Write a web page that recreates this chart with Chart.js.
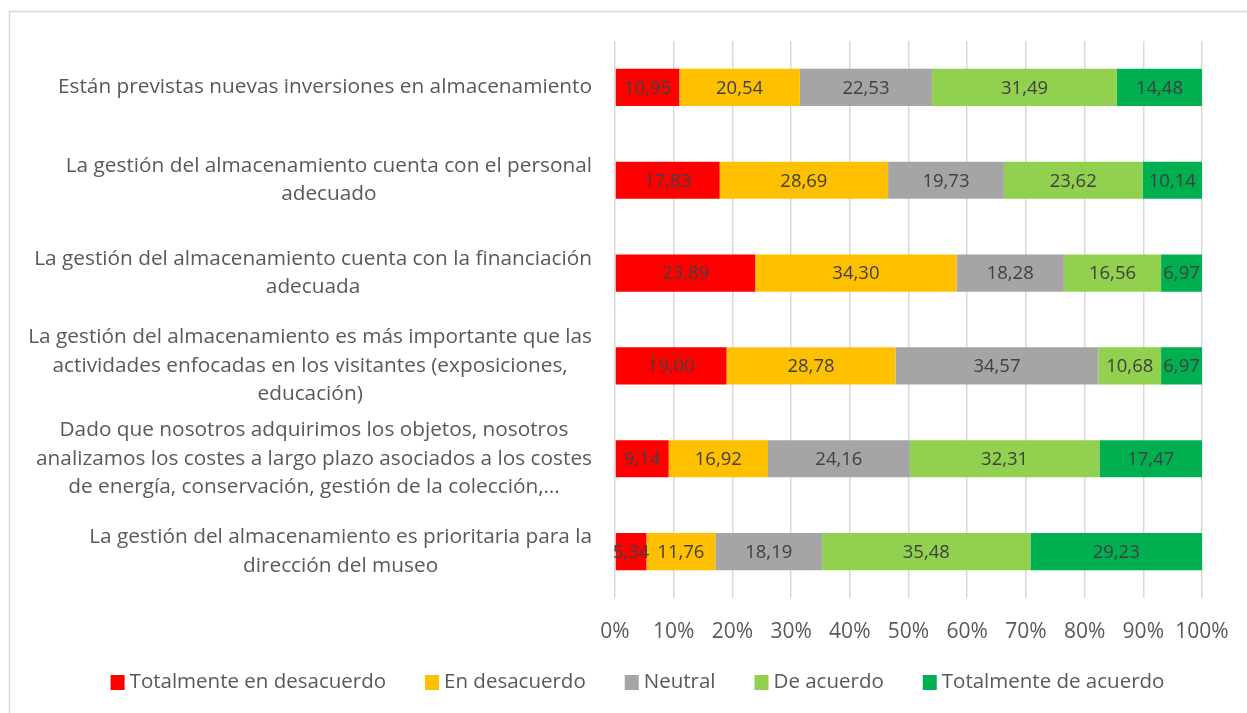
<!DOCTYPE html>
<html lang="es">
<head>
<meta charset="utf-8">
<title>Gestión del almacenamiento</title>
<script src="https://cdn.jsdelivr.net/npm/chart.js@4"></script>
<style>
  html, body { margin: 0; padding: 0; background: #fff; }
  #wrap { position: relative; width: 1247px; height: 713px; }
</style>
</head>
<body>
<div id="wrap"><canvas id="storageChart" width="1247" height="713"></canvas></div>
<script>
// Survey statements (one array of lines per statement)
const categories = [
    ['Están previstas nuevas inversiones en almacenamiento'],
    ['La gestión del almacenamiento cuenta con el personal', 'adecuado'],
    ['La gestión del almacenamiento cuenta con la financiación', 'adecuada'],
    ['La gestión del almacenamiento es más importante que las', 'actividades enfocadas en los visitantes (exposiciones,', 'educación)'],
    ['Dado que nosotros adquirimos los objetos, nosotros', 'analizamos los costes a largo plazo asociados a los costes', 'de energía, conservación, gestión de la colección,…'],
    ['La gestión del almacenamiento es prioritaria para la', 'dirección del museo']
];

const seriesNames = ['Totalmente en desacuerdo', 'En desacuerdo', 'Neutral', 'De acuerdo', 'Totalmente de acuerdo'];
const seriesColors = ['#FF0000', '#FFC000', '#A5A5A5', '#92D050', '#00B050'];

const totalDesacuerdo = [10.95, 17.83, 23.89, 19.00, 9.14, 5.34];
const enDesacuerdo    = [20.54, 28.69, 34.30, 28.78, 16.92, 11.76];
const neutral         = [22.53, 19.73, 18.28, 34.57, 24.16, 18.19];
const deAcuerdo       = [31.49, 23.62, 16.56, 10.68, 32.31, 35.48];
const totalAcuerdo    = [14.48, 10.14, 6.97, 6.97, 17.47, 29.23];

const xTicks = [0, 10, 20, 30, 40, 50, 60, 70, 80, 90, 100];

const FONT = '"Open Sans", Lato, sans-serif';
const TEXT = '#595959';

// frame around the whole chart
const framePlugin = {
    id: 'frame',
    beforeDraw(chart) {
        const ctx = chart.ctx;
        ctx.save();
        ctx.strokeStyle = '#D9D9D9';
        ctx.lineWidth = 1.5;
        ctx.strokeRect(9.5, 11.5, 1400, 900);
        ctx.restore();
    }
};

// category labels: each block centred on itself, right-aligned against the axis
const categoryLabels = {
    id: 'categoryLabels',
    afterDraw(chart) {
        const ctx = chart.ctx;
        const y = chart.scales.y;
        const right = chart.chartArea.left - 23;
        const lineH = 28.5;
        ctx.save();
        ctx.font = '20.8px ' + FONT;
        ctx.fillStyle = TEXT;
        ctx.textAlign = 'center';
        ctx.textBaseline = 'middle';
        categories.forEach((lines, i) => {
            const cy = y.getPixelForValue(i);
            const w = Math.max(...lines.map(l => ctx.measureText(l).width));
            const cx = right - w / 2;
            const top = cy - (lines.length - 1) * lineH / 2;
            lines.forEach((l, j) => ctx.fillText(l, cx, top + j * lineH));
        });
        ctx.restore();
    }
};

// value labels in the middle of each segment
const valueLabels = {
    id: 'valueLabels',
    afterDatasetsDraw(chart) {
        const ctx = chart.ctx;
        ctx.save();
        ctx.font = '18.5px ' + FONT;
        ctx.fillStyle = '#404040';
        ctx.textAlign = 'center';
        ctx.textBaseline = 'middle';
        chart.data.datasets.forEach((ds, i) => {
            chart.getDatasetMeta(i).data.forEach((bar, j) => {
                const v = ds.data[j];
                ctx.fillText(v.toFixed(2).replace('.', ','), (bar.x + bar.base) / 2, bar.y + 1);
            });
        });
        ctx.restore();
    }
};

// legend row under the axis, centred, square swatches
const bottomLegend = {
    id: 'bottomLegend',
    afterDraw(chart) {
        const ctx = chart.ctx;
        const box = 14, gapText = 5, gapItem = 39, cy = 682;
        ctx.save();
        ctx.font = '20.5px ' + FONT;
        ctx.textBaseline = 'middle';
        ctx.textAlign = 'left';
        const widths = seriesNames.map(n => ctx.measureText(n).width);
        const total = widths.reduce((a, w) => a + box + gapText + w, 0) + gapItem * (seriesNames.length - 1);
        let x = 637.5 - total / 2;
        seriesNames.forEach((n, i) => {
            ctx.fillStyle = seriesColors[i];
            ctx.fillRect(x, cy - box / 2, box, box + 1);
            ctx.fillStyle = TEXT;
            ctx.fillText(n, x + box + gapText, cy);
            x += box + gapText + widths[i] + gapItem;
        });
        ctx.restore();
    }
};

const seriesData = [totalDesacuerdo, enDesacuerdo, neutral, deAcuerdo, totalAcuerdo];

new Chart(document.getElementById('storageChart'), {
    type: 'bar',
    data: {
        labels: categories.map(c => c.join(' ')),
        datasets: seriesNames.map((name, i) => ({
            label: name,
            data: seriesData[i],
            backgroundColor: seriesColors[i],
            borderWidth: 0,
            barPercentage: 0.4,
            categoryPercentage: 1
        }))
    },
    options: {
        indexAxis: 'y',
        responsive: false,
        animation: false,
        layout: {
            padding: { top: 41, left: 28, right: 0, bottom: 69 }
        },
        scales: {
            x: {
                stacked: true,
                min: 0,
                max: 100,
                afterBuildTicks(scale) {
                    scale.ticks = xTicks.map(v => ({ value: v }));
                },
                afterFit(scale) {
                    scale.height = 46;
                    scale.paddingLeft = 0;
                    scale.paddingRight = 20;
                },
                ticks: {
                    callback: v => v + '%',
                    color: TEXT,
                    font: { family: FONT, size: 21 },
                    padding: 21,
                    maxRotation: 0
                },
                grid: { color: '#D9D9D9', lineWidth: 1.5, drawTicks: false },
                border: { display: false }
            },
            y: {
                stacked: true,
                ticks: { display: false },
                grid: { display: false },
                border: { display: false },
                afterFit(scale) { scale.width = 587; }
            },
            yRight: {
                position: 'right',
                display: true,
                ticks: { display: false },
                grid: { display: false },
                border: { display: false },
                afterFit(scale) { scale.width = 45; }
            }
        },
        plugins: {
            legend: { display: false },
            tooltip: { enabled: false }
        }
    },
    plugins: [framePlugin, categoryLabels, valueLabels, bottomLegend]
});
</script>
</body>
</html>
